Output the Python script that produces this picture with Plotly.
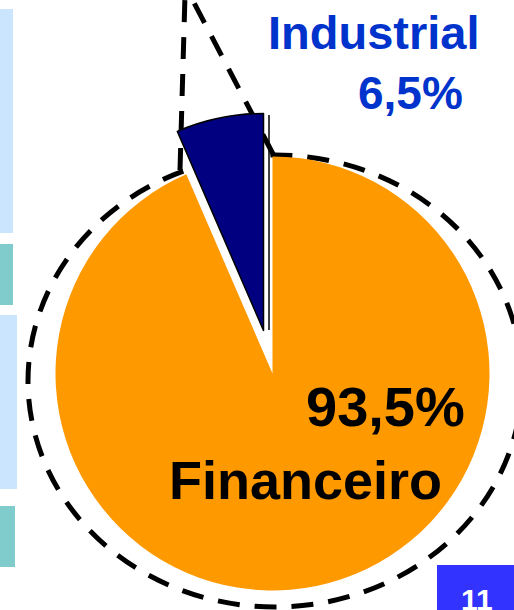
import plotly.graph_objects as go

W, H = 514, 610

# data
sectors = ["Financeiro", "Industrial"]
shares = [93.5, 6.5]
slice_colors = ["#FF9900", "#000080"]
page_number = "11"

FONT = "Liberation Sans Narrow, Arial Narrow, Liberation Sans, Arial, sans-serif"


def px(x):
    return x / W


def py(y):
    return 1 - y / H


def pct(v):
    return f"{v:.1f}%".replace(".", ",")


def pie_domain(cx, cy, r):
    return dict(x=[px(cx - r), px(cx + r)], y=[py(cy + r), py(cy - r)])


R = 217
CX, CY = 272.5, 373.5
# the small slice is exploded up-left along its bisector
PULL_DX, PULL_DY = -9, -43

fig = go.Figure()

# main pie: only the big slice visible
fig.add_trace(go.Pie(
    labels=sectors, values=shares, sort=False, direction="clockwise", rotation=0,
    marker=dict(colors=[slice_colors[0], "rgba(0,0,0,0)"],
                line=dict(color=["rgba(0,0,0,0)", "rgba(0,0,0,0)"], width=0)),
    textinfo="none", hoverinfo="label+percent", showlegend=False,
    domain=pie_domain(CX, CY, R)))

# exploded slice: same pie shifted, only the small slice visible
fig.add_trace(go.Pie(
    labels=sectors, values=shares, sort=False, direction="clockwise", rotation=0,
    marker=dict(colors=["rgba(0,0,0,0)", slice_colors[1]],
                line=dict(color=["rgba(0,0,0,0)", "black"], width=[0, 1.5])),
    textinfo="none", hoverinfo="label+percent", showlegend=False,
    domain=pie_domain(CX + PULL_DX, CY + PULL_DY, R)))

shapes = []
# side bars of the slide
for x1, y0, y1, col in [(13, 9, 233, "#CCE5FF"), (13, 244, 305, "#80CCCC"),
                        (17, 315, 489, "#CCE5FF"), (15, 506, 567, "#80CCCC")]:
    shapes.append(dict(type="rect", xref="paper", yref="paper",
                       x0=0, x1=px(x1), y0=py(y1), y1=py(y0),
                       fillcolor=col, line=dict(width=0), layer="below"))

dash = dict(color="black", width=5, dash="22px,15px")
# dashed ring around the pie (behind the slices)
shapes.append(dict(type="circle", xref="paper", yref="paper", layer="below",
                   x0=px(275 - 247), x1=px(275 + 247), y0=py(381 + 226), y1=py(381 - 226),
                   line=dash))
# callout lines from the exploded slice
shapes.append(dict(type="line", xref="paper", yref="paper", layer="below",
                   x0=px(180), y0=py(170), x1=px(185), y1=py(-5), line=dash))
shapes.append(dict(type="line", xref="paper", yref="paper", layer="below",
                   x0=px(273), y0=py(154), x1=px(190), y1=py(-5), line=dash))
# thin edge line next to the exploded slice
shapes.append(dict(type="line", xref="paper", yref="paper",
                   x0=px(269), y0=py(115), x1=px(269), y1=py(330),
                   line=dict(color="black", width=1.5)))
# page-number box
shapes.append(dict(type="rect", xref="paper", yref="paper",
                   x0=px(437), x1=1, y0=0, y1=py(565),
                   fillcolor="#3333FF", line=dict(width=0)))

ann = []


def label(text, x_right, y_mid, size, color):
    ann.append(dict(text=f"<b>{text}</b>", x=px(x_right), y=py(y_mid), xref="paper", yref="paper",
                    xanchor="right", yanchor="middle", showarrow=False,
                    font=dict(family=FONT, size=size, color=color)))


label(sectors[1], 482, 32, 47, "#0033CC")
label(pct(shares[1]), 465, 93, 46, "#0033CC")
label(pct(shares[0]), 467, 406, 56, "black")
label(sectors[0], 444, 480, 54, "black")

ann.append(dict(text=f"<b>{page_number}</b>", x=px(477), y=py(581), xref="paper", yref="paper",
                xanchor="center", yanchor="top", showarrow=False,
                font=dict(family="Liberation Sans, Arial, sans-serif", size=30, color="white")))

fig.update_layout(width=W, height=H, margin=dict(l=0, r=0, t=0, b=0),
                  paper_bgcolor="white", plot_bgcolor="white",
                  shapes=shapes, annotations=ann)

# drop the default page margin so the figure sits flush with the window
fig.write_html("out.html", config={"displayModeBar": False},
               post_script="document.body.style.margin='0px';")
